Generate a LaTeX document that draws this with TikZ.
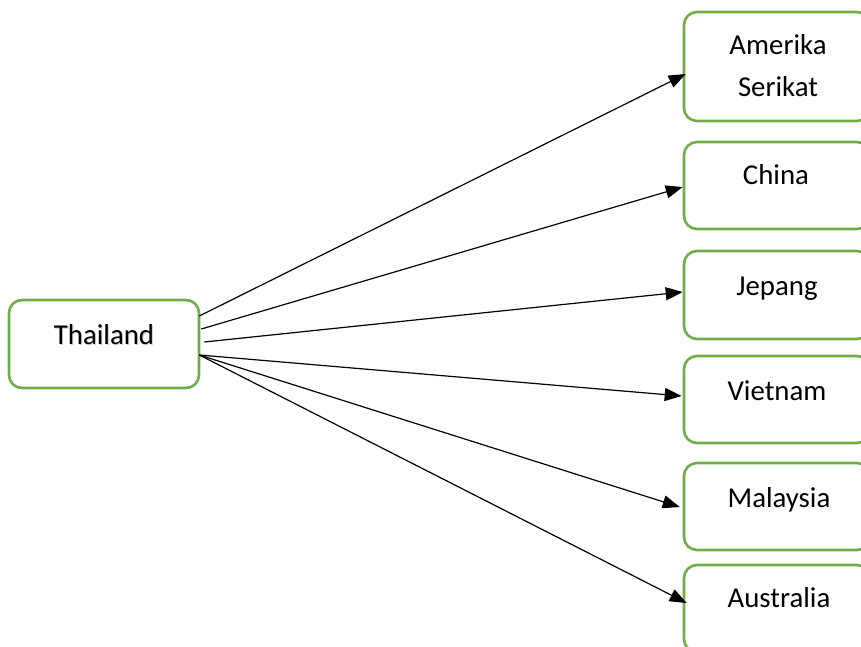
\documentclass[tikz,border=0pt]{standalone}
\usepackage{fontspec}
\setmainfont{Carlito}
\usetikzlibrary{arrows.meta,calc}
\definecolor{boxgreen}{HTML}{70AD47}
\tikzset{
  box/.style={draw=boxgreen, line width=2.6bp, rounded corners=13bp, fill=white, inner sep=0pt},
  lbl/.style={anchor=base, inner sep=0pt, align=center, font=\fontsize{28.8bp}{42bp}\selectfont},
  conn/.style={line width=1.2bp, -{Triangle[length=17bp,width=13bp]}}
}
\begin{document}
\begin{tikzpicture}[x=1bp,y=-1bp]
\clip (0,0) rectangle (861,647);
\fill[white] (0,0) rectangle (861,647);
% boxes
\node[box, minimum width=190bp, minimum height=88bp] (thai) at (104,344) {};
\node[box, minimum width=186bp, minimum height=109bp] (us) at (777,66.5) {};
\node[box, minimum width=186bp, minimum height=87bp] (cn) at (777,185.5) {};
\node[box, minimum width=186bp, minimum height=88bp] (jp) at (777,295) {};
\node[box, minimum width=186bp, minimum height=87bp] (vn) at (777,399.5) {};
\node[box, minimum width=186bp, minimum height=87bp] (my) at (777,506.5) {};
\node[box, minimum width=186bp, minimum height=87bp] (au) at (777,608.5) {};
% labels
\node[lbl, text=gray!40] (thaishadow) at (105,345) {Thailand};
\node[lbl] (thaitext) at (104,344) {Thailand};
\node[lbl] (ustext) at (778,97) {Amerika\\Serikat};
\node[lbl] (cntext) at (776,185) {China};
\node[lbl] (jptext) at (777,295) {Jepang};
\node[lbl] (vntext) at (777,400) {Vietnam};
\node[lbl] (mytext) at (779,507) {Malaysia};
\node[lbl] (autext) at (779,607) {Australia};
% connectors
\draw[conn] ($(thai.east)+(-1,-28)$) -- ($(us.west)+(3,7.5)$);
\draw[conn] ($(thai.east)+(1,-15)$) -- ($(cn.west)+(0,1.5)$);
\draw[conn] ($(thai.east)+(4,-2)$) -- ($(jp.west)+(0,-3)$);
\draw[conn] ($(thai.east)+(-1,11)$) -- ($(vn.west)+(-1,-3.5)$);
\draw[conn] ($(thai.east)+(-1,11)$) -- ($(my.west)+(-3,0.5)$);
\draw[conn] ($(thai.east)+(-1,11)$) -- ($(au.west)+(4,-5.5)$);
\end{tikzpicture}
\end{document}
